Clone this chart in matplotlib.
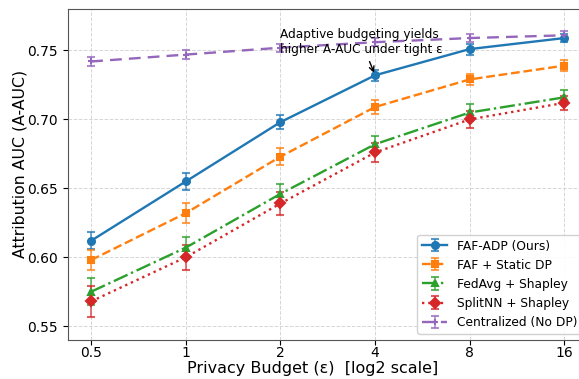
import numpy as np
import matplotlib
matplotlib.use("Agg")
import matplotlib.pyplot as plt
from matplotlib.colors import to_rgba

# privacy budgets (epsilon) on a log2 axis
eps = [0.5, 1, 2, 4, 8, 16]
eps_labels = ["0.5", "1", "2", "4", "8", "16"]

# mean A-AUC and std for each method
faf_adp = [0.612, 0.655, 0.698, 0.732, 0.751, 0.759]
faf_adp_err = [0.006, 0.006, 0.005, 0.004, 0.004, 0.003]
faf_static = [0.598, 0.632, 0.673, 0.709, 0.729, 0.739]
faf_static_err = [0.007, 0.007, 0.006, 0.005, 0.004, 0.004]
fedavg = [0.575, 0.607, 0.646, 0.682, 0.705, 0.716]
fedavg_err = [0.010, 0.008, 0.007, 0.006, 0.006, 0.005]
splitnn = [0.568, 0.600, 0.639, 0.676, 0.700, 0.712]
splitnn_err = [0.011, 0.009, 0.008, 0.007, 0.006, 0.005]
central = [0.742, 0.747, 0.752, 0.756, 0.759, 0.761]
central_err = [0.003, 0.003, 0.003, 0.003, 0.003, 0.003]

fig = plt.figure(figsize=(5.79, 3.79), dpi=100)
# axes run a little past the right edge of the canvas
ax = fig.add_axes([0.1166, 0.103, 0.899, 0.873])

series = [
    (faf_adp, faf_adp_err, "FAF-ADP (Ours)", "#1f77b4", "-", "o"),
    (faf_static, faf_static_err, "FAF + Static DP", "#ff7f0e", "--", "s"),
    (fedavg, fedavg_err, "FedAvg + Shapley", "#2ca02c", "-.", "^"),
    (splitnn, splitnn_err, "SplitNN + Shapley", "#d62728", ":", "D"),
    (central, central_err, "Centralized (No DP)", "#9467bd", (0, (5, 3)), "+"),
]
for y, err, label, color, ls, mk in series:
    ax.errorbar(eps, y, yerr=err, label=label, color=color, linestyle=ls,
                marker=mk, markersize=5, linewidth=1.7, capsize=3,
                elinewidth=1.2, ecolor=to_rgba(color, 0.75), mew=1.5)

ax.set_xscale("log", base=2)
ax.set_xticks(eps)
ax.set_xticklabels(eps_labels)
ax.minorticks_off()
ax.set_ylim(0.54, 0.78)
ax.set_yticks([0.55, 0.60, 0.65, 0.70, 0.75])
ax.tick_params(labelsize=10)
ax.tick_params(axis="x", pad=0.5)
ax.grid(True, linestyle="--", color="#cccccc", linewidth=0.7, alpha=0.8)
for s in ax.spines.values():
    s.set_color("#555555")

ax.set_xlabel("Privacy Budget (\u03b5)  [log2 scale]", fontsize=11.5)
ax.set_ylabel("Attribution AUC (A-AUC)", fontsize=11.3)
ax.xaxis.set_label_coords(0.47, -0.063)
ax.yaxis.set_label_coords(-0.076, 0.532)

ax.annotate("Adaptive budgeting yields\nhigher A-AUC under tight \u03b5",
            xy=(4, 0.732), xytext=(2, 0.756), fontsize=8.7, va="center",
            arrowprops=dict(arrowstyle="->", color="black", lw=1))

ax.legend(loc="lower right", fontsize=8.8, framealpha=0.9)

fig.savefig("out.png", dpi=100)
